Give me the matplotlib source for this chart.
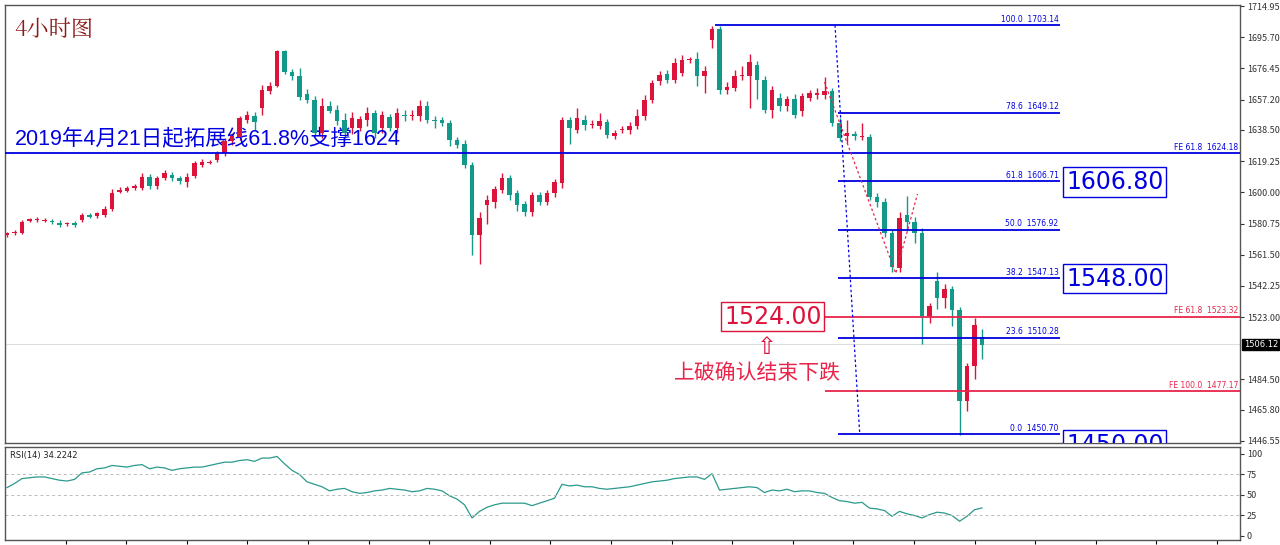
import matplotlib
matplotlib.use("Agg")
import matplotlib.pyplot as plt
import numpy as np

plt.rcParams['font.family'] = ['Noto Sans CJK SC', 'DejaVu Sans']

opens = [1573.6,1574.7,1575.1,1582.5,1582.9,1582.5,1582.5,1581.3,1580.4,1580.9,
 1582.9,1586.0,1585.4,1586.0,1589.5,1600.5,1601.1,1602.5,1602.9,1609.7,
 1603.6,1608.7,1610.8,1608.7,1606.1,1610.2,1617.0,1618.4,1619.7,1624.2,
 1631.4,1634.1,1644.8,1647.3,1652.0,1662.4,1665.9,1687.1,1674.1,1671.6,
 1660.9,1657.2,1636.6,1653.5,1651.0,1644.8,1639.7,1639.7,1644.8,1648.9,
 1639.7,1646.5,1639.7,1647.9,1646.9,1646.9,1653.1,1644.8,1644.4,1642.7,
 1632.4,1630.0,1617.0,1573.6,1592.2,1594.3,1601.5,1608.7,1599.4,1592.8,
 1588.1,1598.4,1594.3,1599.4,1605.6,1644.4,1638.6,1644.8,1641.7,1641.1,
 1643.2,1634.9,1638.6,1638.2,1641.1,1646.9,1657.2,1668.5,1673.3,1669.6,
 1673.7,1681.5,1682.4,1671.6,1694.3,1700.9,1662.9,1664.4,1671.6,1672.0,
 1678.8,1669.6,1651.0,1658.2,1653.1,1657.6,1650.0,1658.2,1660.3,1660.3,
 1662.4,1642.7,1634.5,1635.9,1634.1,1634.1,1597.3,1594.2,1574.7,1553.0,
 1586.0,1581.9,1574.7,1523.4,1545.0,1534.7,1540.2,1527.5,1471.2,1492.7,
 1510.7]
closes = [1574.7,1575.7,1581.9,1583.3,1583.0,1582.6,1581.7,1579.6,1580.9,1579.6,
 1586.0,1585.0,1587.0,1589.5,1599.8,1601.5,1602.5,1603.6,1609.7,1604.0,
 1608.7,1611.8,1608.7,1606.7,1609.7,1618.0,1619.0,1619.0,1624.2,1631.4,
 1634.5,1645.8,1647.9,1643.2,1663.0,1665.9,1687.1,1674.1,1671.6,1658.8,
 1657.2,1636.6,1653.1,1650.0,1643.8,1636.6,1645.8,1645.2,1648.9,1636.6,
 1647.9,1639.7,1648.9,1646.9,1647.9,1653.1,1644.8,1643.8,1642.7,1632.4,
 1629.3,1617.0,1573.6,1584.0,1595.3,1601.9,1608.7,1598.4,1592.2,1588.1,
 1598.4,1594.3,1599.4,1606.1,1644.4,1639.7,1645.8,1641.7,1641.8,1643.8,
 1635.5,1636.6,1638.7,1641.1,1647.3,1657.2,1667.5,1672.7,1669.6,1679.9,
 1681.5,1682.4,1671.6,1674.7,1700.9,1662.9,1665.0,1671.6,1672.7,1680.3,
 1669.6,1651.0,1663.4,1653.1,1657.6,1647.9,1659.2,1661.3,1661.3,1662.4,
 1642.7,1633.5,1636.6,1634.5,1634.9,1597.3,1594.2,1574.7,1554.0,1584.0,
 1581.9,1574.7,1523.4,1529.6,1534.7,1540.2,1527.5,1471.2,1492.7,1518.3,
 1506.0]
wick_up = [1,1,1,1,1.5,1.5,1,1.5,1,1.5, 1.5,1,1,2,2,1.5,1.5,1.5,2,1.5,
 1.5,2,1.5,1.5,2,1.5,1.5,1,1.5,2, 2,1.5,2,2,3,2,1,1,2,5,
 3,2,5,3,3,4,4,2,4,2, 2,2,3,3,3,4,3,2,2,2,
 2,2,2,4,3,2,3,2,2,2, 2,2,2,2,2,2,6,3,3,5,
 2,2,2,2,4,3,2,2,2,3, 3,1,4,3,2,2,3,4,5,5,
 2,2,2,3,2,3,2,2,3,9, 2,3,8,2,8,2,2,2,2,4,
 12,3,3,2,6,3,2,2,2,4, 5]
wick_dn = [1,1,1,1,1,1,1,1,1,1, 1,1,1,1,1,1,1,1,1.5,2,
 1.5,1,1.5,1.5,3,1.5,1.5,1,1,1.5, 2,2,2,5,4,2,1,1,2,2,
 2,2,3,1,2,3,4,2,4,3, 3,2,3,3,2,3,2,4,2,4,
 2,2,12,18,12,4,2,3,4,3, 3,2,2,2,3,10,2,3,2,2,
 2,2,2,2,2,2,2,2,2,2, 2,2,6,10,5,2,2,2,2,20,
 12,2,5,3,3,2,3,2,3,3, 2,2,4,2,2,2,3,2,3,2,
 6,6,17,4,7,6,10,21,6,8, 9]
rsi = [59,64,70,71,72,72,70,68,67,69, 77,78,82,83,86,85,84,86,87,82,
 84,83,80,82,83,84,84,86,88,90, 90,92,93,91,95,95,97,88,80,75,
 66,63,60,55,57,58,54,52,53,55, 56,58,57,56,54,55,58,57,55,49,
 45,38,22,30,35,38,40,40,40,40, 37,40,43,46,63,61,62,60,60,58,
 57,58,59,60,62,64,66,67,68,70, 71,72,72,69,76,56,57,58,59,60,
 59,53,56,55,57,54,55,55,53,52, 47,43,42,40,41,34,33,31,24,30,
 27,25,22,26,29,28,25,18,24,32, 34.2]

fib_levels = [100.0, 78.6, 61.8, 50.0, 38.2, 23.6, 0.0]
fib_prices = [1703.14, 1649.12, 1606.71, 1576.92, 1547.13, 1510.28, 1450.70]
fe_levels = ["61.8", "61.8", "100.0"]
fe_prices = [1624.18, 1523.32, 1477.17]
yticks = [1714.95,1695.70,1676.45,1657.20,1638.50,1619.25,1600.00,1580.75,1561.50,
          1542.25,1523.00,1484.50,1465.80,1446.55]
last_price = 1506.12
zig_x = [109, 118.5, 121.4]
zig_y = [1668, 1550, 1599]

RED = '#dc143c'; GRN = '#13998a'; BLUE = '#0000e0'; PINK = '#e8244a'
W, H = 1280, 545
fig = plt.figure(figsize=(12.8, 5.45), dpi=100)
ax = fig.add_axes([5/W, 1-443/H, 1235/W, 438/H])
ar = fig.add_axes([5/W, 1-540/H, 1235/W, 93/H])

n = len(opens)
x = np.arange(n)
for i in range(n):
    o, c = opens[i], closes[i]
    col = RED if c >= o else GRN
    hi = max(o, c) + wick_up[i]; lo = min(o, c) - wick_dn[i]
    ax.vlines(i, lo, hi, color=col, lw=1, zorder=3)
    h = max(abs(c - o), 0.6)
    ax.add_patch(plt.Rectangle((i - 0.28, min(o, c)), 0.56, h, color=col, zorder=4, lw=0))

xl = (-0.27, 164.4)
ax.set_xlim(*xl); ax.set_ylim(1445.3, 1715.6)
ar.set_xlim(*xl); ar.set_ylim(-4.9, 108.5)

for lv, p in zip(fib_levels, fib_prices):
    xs = 94.4 if lv == 100.0 else 110.8
    ax.hlines(p, xs, 140.4, color=BLUE, lw=1.3, zorder=5)
    ax.text(140.2, p + 0.8, f"{lv:.1f}  {p:.2f}", color=BLUE, fontsize=5.5,
            ha='right', va='bottom', family='DejaVu Sans', zorder=6)
ax.hlines(fe_prices[0], xl[0], xl[1], color=BLUE, lw=1.3, zorder=5)
ax.hlines(fe_prices[1:], 109.0, xl[1], color=PINK, lw=1.3, zorder=5)
for lv, p in zip(fe_levels, fe_prices):
    ax.text(164.2, p + 0.8, f"FE {lv}  {p:.2f}", color=BLUE if p == fe_prices[0] else PINK,
            fontsize=5.5, ha='right', va='bottom', family='DejaVu Sans', zorder=6)
ax.axhline(last_price, color='#dddddd', lw=0.8, zorder=1)
ax.plot([110.4, 113.7], [1703.14, 1450.70], ls=(0, (2, 2)), color=BLUE, lw=0.9, zorder=5)
ax.plot(zig_x, zig_y, ls=(0, (2, 2)), color=PINK, lw=0.9, zorder=5)

bb = dict(boxstyle='square,pad=0.12', fc='white', ec=BLUE, lw=1)
for t, p in [("1606.80", 1606.4), ("1548.00", 1546.8), ("1450.00", 1444.0)]:
    ax.text(141.2, p, t, color=BLUE, fontsize=17, ha='left', va='center',
            bbox=bb, family='Liberation Sans Narrow', zorder=7, clip_on=True)
ax.text(95.6, 1523.3, "1524.00", color=RED, fontsize=17, ha='left', va='center',
        family='Liberation Sans Narrow',
        bbox=dict(boxstyle='square,pad=0.12', fc='white', ec=RED, lw=1), zorder=7)
ax.hlines(1523.3, 107.5, 109.0, color=RED, lw=1)
ax.text(101.3, 1504.5, "⇧", color=RED, fontsize=17, ha='center', va='center', family='DejaVu Sans')
ax.text(100.0, 1488.5, "上破确认结束下跌", color=PINK, fontsize=15, ha='center', va='center')
ax.text(0.9, 1700, "4小时图", color='#8b1a1a', fontsize=16, ha='left', va='center',
        family=['Noto Serif CJK SC', 'Noto Sans CJK SC'])
ax.text(1.1, 1633, "2019年4月21日起拓展线61.8%支撑1624", color=BLUE, fontsize=15.5,
        ha='left', va='center', family=['Liberation Sans', 'Noto Sans CJK SC'])

for a in (ax, ar):
    a.yaxis.tick_right()
    a.tick_params(axis='y', labelsize=6.5, colors='#333333', length=3, pad=2)
    a.tick_params(axis='x', length=3, labelbottom=False)
    for s in a.spines.values():
        s.set_color('#555555'); s.set_linewidth(1)
ax.set_yticks(yticks, [f"{v:.2f}" for v in yticks])
ax.set_xticks([])
ax.text(1.003, (last_price - 1445.3) / (1715.6 - 1445.3), f"{last_price:.2f}", transform=ax.transAxes,
        fontsize=6, color='white', va='center', ha='left', family='DejaVu Sans',
        bbox=dict(boxstyle='square,pad=0.15', fc='black', ec='black'), zorder=8, clip_on=False)

ar.plot(x, rsi, color='#2a9a8c', lw=0.9)
for lv in (25, 50, 75):
    ar.axhline(lv, color='#bbbbbb', ls=(0, (3, 3)), lw=0.7)
ar.set_yticks([0, 25, 50, 75, 100])
ar.set_xticks(np.arange(7.8, 164, 8.08))
ar.text(0.4, 104, f"RSI(14) {34.2242}", fontsize=6, color='#222222', va='top', family='DejaVu Sans')

fig.savefig("out.png", dpi=100)
